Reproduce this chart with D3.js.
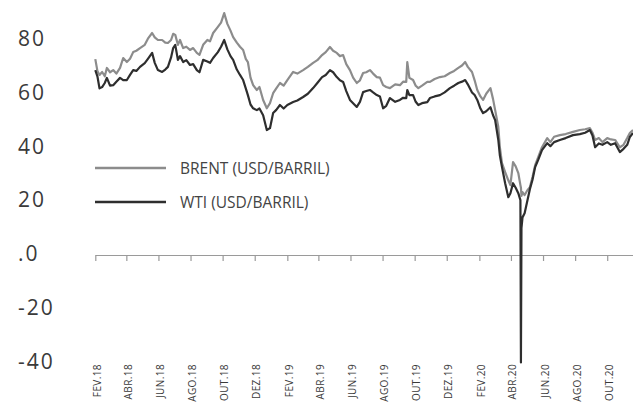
<!DOCTYPE html>
<html>
<head>
<meta charset="utf-8">
<script src="https://cdn.jsdelivr.net/npm/d3@7"></script>
<style>
  body { margin: 0; background: #fff; }
  svg { display: block; }
  .ylab { font-family: "Open Sans", sans-serif; font-size: 21px; letter-spacing: 2px; fill: #3a3a3a; }
  .xlab { font-family: "Open Sans", sans-serif; font-size: 10px; letter-spacing: 0.4px; fill: #3a3a3a; }
  .leg { font-family: "Open Sans", sans-serif; font-size: 15.5px; fill: #444; }
</style>
</head>
<body>
<svg id="chart" width="633" height="404"></svg>
<script>
// roughly weekly
const dates = [
  "2018-02-01","2018-02-05","2018-02-09","2018-02-14","2018-02-19","2018-02-23","2018-03-01","2018-03-07","2018-03-13","2018-03-20",
  "2018-03-26","2018-04-02","2018-04-08","2018-04-14","2018-04-20","2018-04-27","2018-05-06","2018-05-12","2018-05-20","2018-05-25",
  "2018-05-31","2018-06-08","2018-06-14","2018-06-19","2018-06-25","2018-06-29","2018-07-03","2018-07-08","2018-07-12","2018-07-18",
  "2018-07-24","2018-07-31","2018-08-06","2018-08-13","2018-08-18","2018-08-25","2018-09-02","2018-09-07","2018-09-13","2018-09-22",
  "2018-09-28","2018-10-04","2018-10-10","2018-10-16","2018-10-21","2018-10-28","2018-11-03","2018-11-09","2018-11-14","2018-11-18",
  "2018-11-23","2018-11-28","2018-12-05","2018-12-10","2018-12-17","2018-12-24","2018-12-30","2019-01-05","2019-01-11","2019-01-18",
  "2019-01-25","2019-02-01","2019-02-12","2019-02-20","2019-03-03","2019-03-12","2019-03-22","2019-03-30","2019-04-08","2019-04-15",
  "2019-04-23","2019-04-29","2019-05-06","2019-05-12","2019-05-18","2019-05-24","2019-05-31","2019-06-06","2019-06-13","2019-06-19",
  "2019-06-25","2019-07-01","2019-07-08","2019-07-14","2019-07-21","2019-07-27","2019-08-02","2019-08-08","2019-08-15","2019-08-25",
  "2019-09-03","2019-09-09","2019-09-15","2019-09-17","2019-09-21","2019-09-28","2019-10-03","2019-10-08","2019-10-15","2019-10-25",
  "2019-10-30","2019-11-08","2019-11-18","2019-11-27","2019-12-07","2019-12-15","2019-12-23","2019-12-30","2020-01-05","2020-01-10",
  "2020-01-18","2020-01-23","2020-01-28","2020-02-03","2020-02-08","2020-02-14","2020-02-22","2020-02-27","2020-03-02","2020-03-08",
  "2020-03-11","2020-03-15","2020-03-21","2020-03-27","2020-03-31","2020-04-05","2020-04-10","2020-04-15","2020-04-19","2020-04-20",
  "2020-04-21","2020-04-23","2020-04-27","2020-05-02","2020-05-07","2020-05-12","2020-05-17","2020-05-23","2020-05-30","2020-06-09",
  "2020-06-15","2020-06-22","2020-07-03","2020-07-14","2020-07-28","2020-08-10","2020-08-20","2020-08-29","2020-09-03","2020-09-08",
  "2020-09-15","2020-09-22","2020-10-01","2020-10-08","2020-10-16","2020-10-25","2020-11-01","2020-11-08","2020-11-13","2020-11-19"
];

const brent = [
  72.9, 68.5, 67.0, 68.1, 66.5, 69.6, 68.0, 68.8, 67.5, 69.6,
  73.3, 71.8, 73.0, 75.5, 76.0, 77.0, 78.2, 80.5, 82.6, 81.0,
  80.0, 80.0, 79.0, 78.9, 80.0, 82.3, 81.9, 78.2, 80.0, 77.0,
  77.5, 76.3, 77.0, 75.2, 74.5, 78.2, 80.0, 79.5, 82.6, 84.9,
  86.5, 90.0, 86.0, 83.5, 81.1, 79.0, 77.5, 76.3, 73.0, 71.8,
  66.0, 63.2, 61.4, 62.5, 57.7, 54.6, 56.5, 60.2, 62.0, 64.0,
  63.0, 65.1, 68.1, 67.5, 68.8, 70.0, 71.5, 72.5, 74.4, 75.5,
  77.4, 76.0, 75.2, 74.0, 74.4, 71.0, 68.8, 66.0, 64.0, 65.0,
  67.7, 68.0, 68.8, 67.5, 66.2, 66.0, 63.2, 62.5, 62.1, 63.5,
  63.2, 64.5, 64.4, 71.8, 65.9, 65.1, 63.0, 62.1, 63.0, 64.4,
  64.4, 65.5, 66.2, 66.5, 67.7, 68.5, 69.6, 70.5, 71.8, 70.0,
  68.1, 65.0, 61.4, 59.0, 57.7, 60.0, 62.1, 58.0, 53.9, 47.6,
  40.0, 34.2, 30.8, 27.8, 26.0, 34.6, 33.0, 30.5, 26.0, 25.0,
  22.0, 23.4, 22.3, 24.0, 25.2, 29.0, 33.4, 36.5, 40.1, 43.5,
  42.0, 44.0, 44.6, 45.0, 45.8, 46.5, 46.8, 47.2, 45.5, 42.8,
  43.5, 42.0, 43.5, 43.0, 42.8, 40.1, 41.0, 43.5, 45.4, 46.5
];

const wti = [
  68.8, 66.5, 62.0, 62.5, 64.0, 65.9, 63.0, 63.2, 64.5, 65.9,
  65.1, 65.1, 67.0, 68.8, 68.5, 70.0, 71.4, 73.0, 75.2, 71.5,
  68.8, 68.1, 69.0, 70.0, 73.5, 77.0, 78.2, 72.6, 74.0, 71.8,
  72.5, 70.7, 71.0, 68.8, 68.0, 72.6, 72.0, 71.5, 73.3, 75.5,
  77.5, 80.0, 76.5, 74.0, 72.6, 69.0, 67.0, 65.1, 62.0, 59.5,
  56.0, 54.6, 53.9, 54.5, 52.0, 46.5, 47.2, 52.8, 54.0, 55.8,
  54.5, 55.8, 56.9, 57.5, 58.8, 60.0, 62.1, 64.0, 66.2, 67.0,
  68.8, 68.0, 66.2, 65.0, 64.4, 61.0, 57.7, 56.5, 55.1, 57.0,
  60.6, 61.0, 61.4, 60.5, 59.5, 59.0, 54.6, 55.5, 58.4, 57.0,
  57.7, 58.5, 58.4, 61.4, 59.5, 59.5, 57.0, 55.8, 56.5, 56.9,
  58.4, 59.0, 59.5, 60.5, 62.1, 63.0, 64.0, 64.5, 65.1, 63.5,
  60.5, 59.5, 57.7, 54.5, 52.8, 53.5, 55.0, 52.0, 50.2, 42.8,
  37.0, 32.7, 26.7, 21.5, 23.0, 26.7, 25.0, 23.0, 20.4, -40.0,
  10.0, 14.0, 15.5, 20.0, 24.5, 28.0, 32.7, 35.5, 39.0, 41.6,
  40.5, 42.0, 42.8, 43.5, 44.6, 45.0, 45.5, 46.5, 44.5, 40.1,
  41.5, 41.0, 42.0, 41.0, 41.6, 38.3, 39.5, 41.0, 43.9, 45.4
];

const yTicks = [80, 60, 40, 20, 0, -20, -40];
const yTickLabels = ["80", "60", "40", "20", ".0", "-20", "-40"];

const xTickLabels = ["FEV.18","ABR.18","JUN.18","AGO.18","OUT.18","DEZ.18",
                     "FEV.19","ABR.19","JUN.19","AGO.19","OUT.19","DEZ.19",
                     "FEV.20","ABR.20","JUN.20","AGO.20","OUT.20"];

const seriesNames = ["BRENT (USD/BARRIL)", "WTI (USD/BARRIL)"];
const seriesColors = ["#8c8c8c", "#2e2e2e"];

const monthIdx = {JAN:0, FEV:1, MAR:2, ABR:3, MAI:4, JUN:5, JUL:6, AGO:7, SET:8, OUT:9, NOV:10, DEZ:11};
const parse = d3.timeParse("%Y-%m-%d");

const svg = d3.select("#chart");

const x = d3.scaleTime()
    .domain([parse("2018-02-01"), parse("2020-11-19")])
    .range([95.3, 633]);

const y = d3.scaleLinear()
    .domain([-40, 80])
    .range([362.5, 40]);

// y labels, no axis line in the original
svg.append("g").selectAll("text")
    .data(yTicks)
    .join("text")
    .attr("class", "ylab")
    .attr("x", 18)
    .attr("y", d => y(d) - 2)
    .attr("dominant-baseline", "central")
    .text((d, i) => yTickLabels[i]);

// x axis at zero
let tickDates = xTickLabels.map(l => {
    let p = l.split(".");
    return new Date(2000 + +p[1], monthIdx[p[0]], 1);
});

let xAxis = d3.axisBottom(x)
    .tickValues(tickDates)
    .tickSize(6)
    .tickSizeOuter(0)
    .tickFormat("");

let gx = svg.append("g")
    .attr("transform", `translate(0,${y(0)})`)
    .call(xAxis);
gx.select(".domain").attr("stroke", "#9a9a9a").attr("stroke-width", 1.2);
gx.selectAll(".tick line").attr("stroke", "#9a9a9a").attr("stroke-width", 1.2);

svg.append("g").selectAll("text")
    .data(tickDates)
    .join("text")
    .attr("class", "xlab")
    .attr("text-anchor", "end")
    .attr("transform", d => `translate(${x(d) + 5.5},364) rotate(-90)`)
    .text((d, i) => xTickLabels[i]);

// lines
let pts = dates.map(parse);
let line = d3.line()
    .x(d => x(d[0]))
    .y(d => y(d[1]));

[brent, wti].forEach((vals, i) => {
    svg.append("path")
        .datum(vals.map((v, j) => [pts[j], v]))
        .attr("fill", "none")
        .attr("stroke", seriesColors[i])
        .attr("stroke-width", 2.2)
        .attr("stroke-linejoin", "round")
        .attr("d", line);
});

// legend
let legY = [168, 202];
let leg = svg.append("g");
seriesNames.forEach((name, i) => {
    leg.append("line")
        .attr("x1", 95).attr("x2", 166)
        .attr("y1", legY[i]).attr("y2", legY[i])
        .attr("stroke", seriesColors[i])
        .attr("stroke-width", 2.5);
    leg.append("text")
        .attr("class", "leg")
        .attr("x", 180)
        .attr("y", legY[i])
        .attr("dominant-baseline", "central")
        .text(name);
});
</script>
</body>
</html>
